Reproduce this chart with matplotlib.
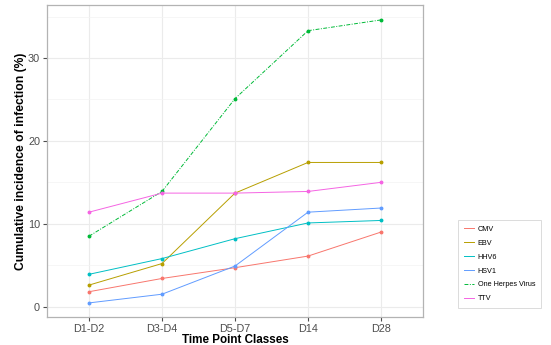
import matplotlib.pyplot as plt
from matplotlib.lines import Line2D
from matplotlib.ticker import MultipleLocator

plt.rcParams["font.family"] = ["Liberation Sans", "DejaVu Sans"]

# time point classes and cumulative incidence (%) per virus
time_points = ["D1-D2", "D3-D4", "D5-D7", "D14", "D28"]
cmv = [1.8, 3.4, 4.7, 6.1, 9.0]
ebv = [2.6, 5.2, 13.7, 17.4, 17.4]
hhv6 = [3.9, 5.8, 8.2, 10.1, 10.4]
hsv1 = [0.45, 1.5, 4.9, 11.4, 11.9]
one_herpes = [8.5, 13.9, 25.1, 33.3, 34.6]
ttv = [11.4, 13.7, 13.7, 13.9, 15.0]

series = [
    ("CMV", cmv, "#F8766D", "-"),
    ("EBV", ebv, "#B79F00", "-"),
    ("HHV6", hhv6, "#00BFC4", "-"),
    ("HSV1", hsv1, "#619CFF", "-"),
    ("One Herpes Virus", one_herpes, "#00BA38", (0, (4, 1.5, 1, 1.5))),
    ("TTV", ttv, "#F564E3", "-"),
]

fig = plt.figure(figsize=(5.51, 3.45), dpi=100)
ax = fig.add_axes([47 / 551, 28 / 345, 376 / 551, 312 / 345])

x = list(range(len(time_points)))
handles = []
for name, vals, col, ls in series:
    ax.plot(x, vals, color=col, linestyle=ls, linewidth=0.7,
            marker="o", markersize=1.8)
    handles.append(Line2D([], [], color=col, linestyle=ls, linewidth=0.7,
                          label=name))

ax.set_xlim(-0.575, 4.575)
ax.set_ylim(-1.25, 36.4)
ax.set_xticks(x)
ax.set_xticklabels(time_points)
ax.yaxis.set_major_locator(MultipleLocator(10))
ax.yaxis.set_minor_locator(MultipleLocator(5))

ax.grid(which="major", color="#ebebeb", linewidth=0.8)
ax.grid(which="minor", axis="y", color="#f3f3f3", linewidth=0.5)
ax.set_axisbelow(True)
for s in ax.spines.values():
    s.set_color("#b3b3b3")
    s.set_linewidth(0.9)
ax.tick_params(which="major", length=3, color="#4d4d4d", labelsize=7.8,
               labelcolor="#4d4d4d", pad=2)
ax.tick_params(which="minor", length=0)

ax.set_xlabel("Time Point Classes", fontsize=8.4, fontweight="bold", labelpad=0)
ax.set_ylabel("Cumulative incidence of infection (%)", fontsize=8.7,
              fontweight="bold", labelpad=0.5)

leg = fig.legend(handles=handles, loc="upper left",
                 bbox_to_anchor=(458 / 551, 1 - 220 / 345), borderaxespad=0,
                 fontsize=5.2, frameon=True, fancybox=False, handlelength=1.4,
                 labelspacing=0.95, borderpad=0.8, handletextpad=0.55)
leg.get_frame().set_edgecolor("#cccccc")
leg.get_frame().set_linewidth(0.6)

fig.savefig("out.png", dpi=100)
